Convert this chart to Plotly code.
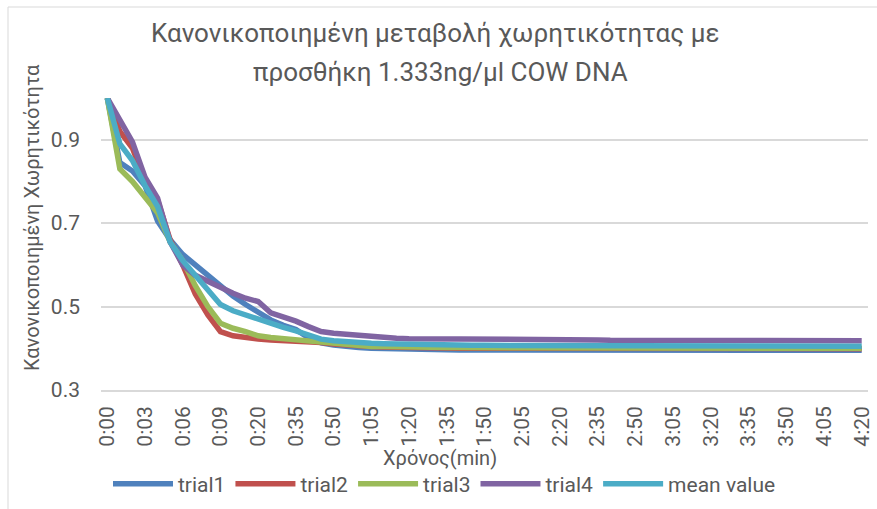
import plotly.graph_objects as go

categories = ["0:00","0:01","0:02","0:03","0:04","0:05","0:06","0:07","0:08","0:09","0:10",
              "0:15","0:20","0:25","0:30","0:35","0:40","0:45","0:50","0:55",
              "1:00","1:05","1:10","1:15","1:20","1:25","1:30","1:35","1:40","1:45","1:50","1:55",
              "2:00","2:05","2:10","2:15","2:20","2:25","2:30","2:35","2:40","2:45","2:50","2:55",
              "3:00","3:05","3:10","3:15","3:20","3:25","3:30","3:35","3:40","3:45","3:50","3:55",
              "4:00","4:05","4:10","4:15","4:20"]

tick_labels = ["0:00","0:03","0:06","0:09","0:20","0:35","0:50","1:05","1:20","1:35","1:50",
               "2:05","2:20","2:35","2:50","3:05","3:20","3:35","3:50","4:05","4:20"]

trial1 = [1.0,0.845,0.825,0.79,0.705,0.66,0.625,0.60,0.575,0.55,0.525,
          0.505,0.485,0.468,0.455,0.445,0.425,0.413,0.408,0.404,
          0.402,0.400,0.399,0.398,0.397,0.397,0.397,0.396,0.396,0.396,0.396,0.396,
          0.396,0.396,0.396,0.395,0.395,0.395,0.395,0.395,0.395,0.395,0.395,0.395,
          0.395,0.395,0.395,0.395,0.395,0.395,0.395,0.395,0.395,0.395,0.395,0.395,
          0.395,0.395,0.395,0.395,0.395]
trial2 = [1.0,0.92,0.88,0.80,0.755,0.66,0.60,0.53,0.48,0.44,0.43,
          0.425,0.422,0.42,0.419,0.418,0.417,0.414,0.41,0.407,
          0.405,0.404,0.403,0.402,0.402,0.401,0.401,0.401,0.400,0.400,0.400,0.400,
          0.400,0.400,0.400,0.400,0.399,0.399,0.399,0.399,0.399,0.399,0.399,0.399,
          0.399,0.399,0.399,0.399,0.399,0.399,0.399,0.399,0.399,0.399,0.399,0.399,
          0.399,0.399,0.399,0.399,0.399]
trial3 = [1.0,0.83,0.80,0.765,0.725,0.655,0.61,0.55,0.50,0.46,0.448,
          0.44,0.43,0.426,0.423,0.421,0.418,0.414,0.41,0.407,
          0.405,0.404,0.404,0.403,0.403,0.402,0.402,0.402,0.402,0.401,0.401,0.401,
          0.401,0.401,0.401,0.401,0.401,0.401,0.400,0.400,0.400,0.400,0.400,0.400,
          0.400,0.400,0.400,0.400,0.400,0.400,0.400,0.400,0.400,0.400,0.400,0.400,
          0.400,0.400,0.400,0.400,0.400]
trial4 = [1.0,0.945,0.895,0.81,0.76,0.655,0.60,0.575,0.56,0.548,0.532,
          0.52,0.512,0.485,0.476,0.465,0.452,0.44,0.436,0.433,
          0.43,0.428,0.426,0.424,0.423,0.423,0.422,0.422,0.422,0.421,0.421,0.421,
          0.421,0.420,0.420,0.420,0.420,0.420,0.420,0.420,0.419,0.419,0.419,0.419,
          0.419,0.419,0.419,0.419,0.419,0.418,0.418,0.418,0.418,0.418,0.418,0.418,
          0.418,0.418,0.418,0.418,0.418]
mean_value = [1.0,0.89,0.85,0.79,0.74,0.655,0.61,0.575,0.535,0.505,0.49,
              0.48,0.47,0.458,0.45,0.442,0.432,0.422,0.418,0.415,
              0.413,0.412,0.411,0.410,0.409,0.409,0.408,0.408,0.408,0.407,0.407,0.407,
              0.407,0.407,0.406,0.406,0.406,0.406,0.406,0.406,0.406,0.405,0.405,0.405,
              0.405,0.405,0.405,0.405,0.405,0.405,0.405,0.405,0.405,0.405,0.405,0.405,
              0.405,0.405,0.405,0.405,0.405]

series_names = ["trial1", "trial2", "trial3", "trial4", "mean value"]
series_values = [trial1, trial2, trial3, trial4, mean_value]
colors = ["#4F81BD", "#C0504D", "#9BBB59", "#8064A2", "#4BACC6"]

FONT = "Roboto"
GRAY = "#595959"

fig = go.Figure()
for name, vals, col in zip(series_names, series_values, colors):
    fig.add_trace(go.Scatter(x=categories, y=vals, name=name, mode="lines",
                             line=dict(color=col, width=5.5, shape="linear")))

W, H = 877, 509
L, R, T, B = 101, 868, 98, 390
def px(x):
    return (x - L) / (R - L)
def py(y):
    return (B - y) / (B - T)

fig.update_layout(
    width=W, height=H,
    margin=dict(l=L, r=W - R, t=T, b=H - B, autoexpand=False),
    paper_bgcolor="white", plot_bgcolor="white",
    font=dict(family=FONT, color=GRAY),
    showlegend=True,
    legend=dict(orientation="h", x=px(108), y=py(484), xanchor="left", yanchor="middle",
                font=dict(size=21, color=GRAY, family=FONT), itemwidth=60,
                tracegroupgap=0, bgcolor="rgba(0,0,0,0)"),
    xaxis=dict(type="category", categoryorder="array", categoryarray=categories,
               range=[-0.5, len(categories) - 0.5], automargin=False,
               tickmode="array", tickvals=tick_labels, ticktext=tick_labels,
               tickangle=-90, tickfont=dict(size=21, color=GRAY, family=FONT),
               showgrid=False, showline=True, linecolor="#D9D9D9", linewidth=1.5,
               ticks="", zeroline=False, ticklabelstandoff=6),
    yaxis=dict(range=[0.3, 1.0], tickmode="array", tickvals=[0.3, 0.5, 0.7, 0.9],
               ticktext=["0.3", "0.5", "0.7", "0.9"], automargin=False,
               tickfont=dict(size=21, color=GRAY, family=FONT),
               showgrid=True, gridcolor="#D9D9D9", gridwidth=1.5,
               zeroline=False, showline=False, ticks="", ticklabelstandoff=20),
    annotations=[
        dict(text="Κανονικοποιημένη μεταβολή χωρητικότητας με", x=px(435), y=py(33),
             xref="paper", yref="paper", showarrow=False, xanchor="center", yanchor="middle",
             font=dict(size=26, color=GRAY, family=FONT)),
        dict(text="προσθήκη 1.333ng/μl COW DNA", x=px(440), y=py(72),
             xref="paper", yref="paper", showarrow=False, xanchor="center", yanchor="middle",
             font=dict(size=26, color=GRAY, family=FONT)),
        dict(text="Χρόνος(min)", x=px(440), y=py(458),
             xref="paper", yref="paper", showarrow=False, xanchor="center", yanchor="middle",
             font=dict(size=20, color=GRAY, family=FONT)),
        dict(text="Κανονικοποιημένη Χωρητικότητα", x=px(32), y=py(218), textangle=-90,
             xref="paper", yref="paper", showarrow=False, xanchor="center", yanchor="middle",
             font=dict(size=20, color=GRAY, family=FONT)),
    ],
    shapes=[
        dict(type="line", xref="paper", yref="paper", x0=px(8), x1=px(880), y0=py(7), y1=py(7),
             line=dict(color="#D9D9D9", width=1)),
        dict(type="line", xref="paper", yref="paper", x0=px(8), x1=px(8), y0=py(7), y1=py(515),
             line=dict(color="#D9D9D9", width=1)),
    ],
)

fig.write_html("out.html", config={"displayModeBar": False},
               post_script="document.body.style.margin='0';document.body.style.overflow='hidden';")
